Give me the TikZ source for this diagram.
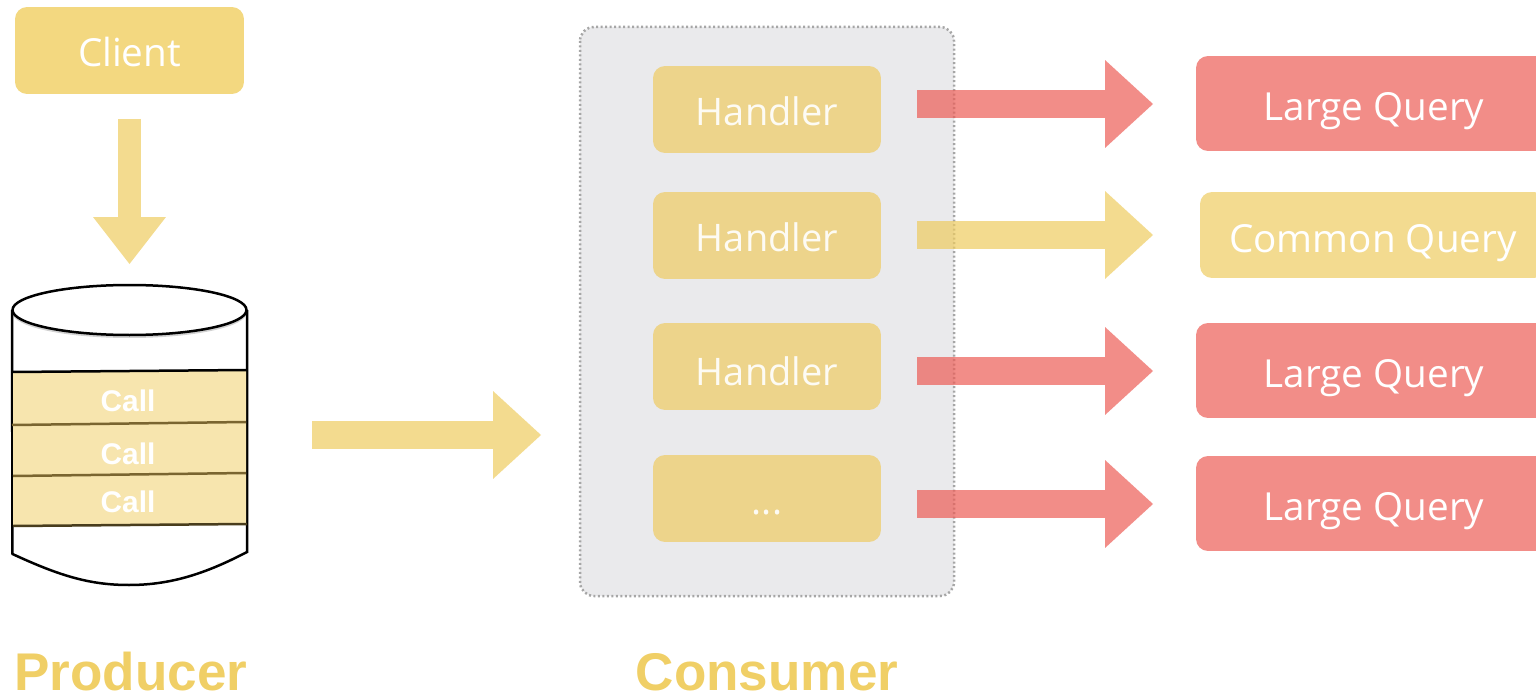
\documentclass[tikz,border=0pt]{standalone}
\usepackage{fontspec}
\usepackage{xcolor}
\usepackage{tikz}
\usetikzlibrary{arrows.meta}
\usetikzlibrary{shapes.geometric, calc, shadows}
\setmainfont{Open Sans}
\newfontfamily\boldfont{Liberation Sans}[BoldFont={Liberation Sans Bold}]
\definecolor{clientyellow}{HTML}{F3D880}
\definecolor{handleryellow}{HTML}{EDD48B}
\definecolor{commonyellow}{HTML}{F3DB90}
\definecolor{callyellow}{HTML}{F7E5AE}
\definecolor{titleyellow}{HTML}{F0CF66}
\definecolor{largered}{HTML}{F28D88}
\definecolor{panelgrey}{HTML}{EAEAEC}
\definecolor{redtip}{RGB}{236,92,85}
\definecolor{yellowtip}{RGB}{238,204,96}
\definecolor{callline}{HTML}{7A6530}
\tikzset{
    box/.style={rounded corners=.24cm, minimum height=1.74cm, text=white, text height=.66cm, text depth=0cm, font=\fontsize{22}{26}\selectfont},
    handlerbox/.style={box, fill=handleryellow, minimum width=4.56cm, text=white!90!handleryellow, font=\fontsize{21.6}{26}\selectfont},
    querybox/.style={box, minimum height=1.9cm, text height=.7cm, fill=largered, minimum width=7.12cm},
    callnode/.style={text=white, font=\boldfont\bfseries\fontsize{17}{20}\selectfont},
    titlenode/.style={anchor=base, inner sep=0pt, text=titleyellow, font=\boldfont\bfseries\fontsize{30.2}{36}\selectfont},
    bigarrow/.style={line width=.58cm, -{Triangle[length=.96cm, width=1.76cm, line width=0pt]}, opacity=.7},
}
\begin{document}
\begin{tikzpicture}[x=.02cm, y=-.02cm]
        \path[use as bounding box, clip] (0,0) rectangle (1536,696);

        % Client and arrow down
        \node[box, fill=clientyellow, minimum width=4.58cm] (client) at (129.5,50.5) {Client};
        \coordinate (clientfrom) at (129.5,119);
        \coordinate (clientto) at (129.5,264);
        \draw[bigarrow, color=yellowtip, line width=.46cm, -{Triangle[length=.94cm, width=1.46cm, line width=0pt]}] (clientfrom) -- (clientto);

        % Queue
        \draw[line width=.05cm, fill=white] (12,310) -- (12.5,554) .. controls (60,576) and (90,585) .. (129,585) .. controls (170,585) and (205,574) .. (247,552) -- (247,310);
        \fill[callyellow] (13,372) -- (246,370) -- (246,524) -- (13,526) -- cycle;
        \draw[line width=.05cm] (12,372) -- (247,370);
        \draw[line width=.05cm, color=callline] (12,425) -- (246,422);
        \draw[line width=.05cm, color=callline] (13,476) -- (246,473);
        \draw[line width=.05cm, color=callline!60!black] (13,526) -- (247,524);
        \draw[line width=.05cm, fill=white, drop shadow={opacity=.35, shadow xshift=0cm, shadow yshift=-.06cm}] (129.5,310) ellipse (117 and 25);
        \node[callnode] (call1) at (128,401) {Call};
        \node[callnode] (call2) at (128,454) {Call};
        \node[callnode] (call3) at (128,502) {Call};
        \node[titlenode] (producer) at (131,690) {Producer};

        % Arrow to the consumer
        \coordinate (queuefrom) at (312,435);
        \coordinate (queueto) at (541,435);
        \draw[bigarrow, color=yellowtip] (queuefrom) -- (queueto);

        % Consumer
        \draw[fill=panelgrey, color=black!35, line width=.05cm, dash pattern=on .04cm off .05cm, rounded corners=.28cm, fill=panelgrey] (580,27) rectangle (954,596);
        \node[handlerbox] (handler1) at (767,109.5) {Handler};
        \node[handlerbox] (handler2) at (767,235.5) {Handler};
        \node[handlerbox, text height=.76cm] (handler3) at (767,366.5) {Handler};
        \node[handlerbox] (handler4) at (767,498.5) {...};
        \node[titlenode] (consumer) at (767,690) {Consumer};

        % Queries
        \node[querybox] (query1) at (1374,103.5) {Large Query};
        \node[querybox, fill=commonyellow, minimum height=1.72cm, minimum width=6.92cm] (query2) at (1373,235) {Common Query};
        \node[querybox] (query3) at (1374,370.5) {Large Query};
        \node[querybox] (query4) at (1374,503.5) {Large Query};

        % Arrows to the queries
        \coordinate (from1) at (917,104);
        \coordinate (to1) at (1153,104);
        \coordinate (from2) at (917,235);
        \coordinate (to2) at (1153,235);
        \coordinate (from3) at (917,371);
        \coordinate (to3) at (1153,371);
        \coordinate (from4) at (917,504);
        \coordinate (to4) at (1153,504);
        \draw[bigarrow, color=redtip] (from1) -- (to1);
        \draw[bigarrow, color=yellowtip] (from2) -- (to2);
        \draw[bigarrow, color=redtip] (from3) -- (to3);
        \draw[bigarrow, color=redtip] (from4) -- (to4);
    \end{tikzpicture}
\end{document}
